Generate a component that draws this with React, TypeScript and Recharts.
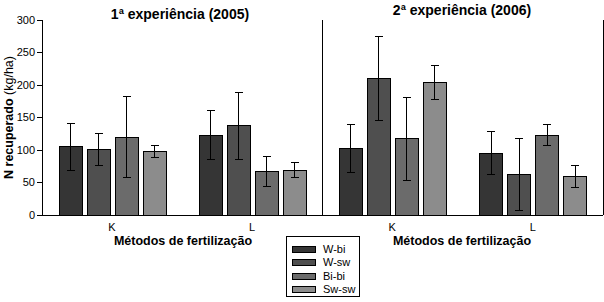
import React from 'react';
import { BarChart, Bar, XAxis, YAxis, ErrorBar } from 'recharts';

const categories = ['K', 'L'];
const series = ['W-bi', 'W-sw', 'Bi-bi', 'Sw-sw'];
const colors = ['#353535', '#4f4f4f', '#6b6b6b', '#8c8c8c'];
const yTicks = [0, 50, 100, 150, 200, 250, 300];

// Experiment 1 (2005): values per series, [K, L]
const exp1WBi = [105, 123];
const exp1WSw = [101, 137];
const exp1BiBi = [120, 67];
const exp1SwSw = [98, 69];
const exp1WBiErr = [36, 38];
const exp1WSwErr = [25, 52];
const exp1BiBiErr = [63, 23];
const exp1SwSwErr = [9, 12];

// Experiment 2 (2006)
const exp2WBi = [103, 95];
const exp2WSw = [210, 62];
const exp2BiBi = [117, 123];
const exp2SwSw = [204, 59];
const exp2WBiErr = [37, 33];
const exp2WSwErr = [65, 55];
const exp2BiBiErr = [64, 16];
const exp2SwSwErr = [26, 17];

const title1 = '1ª experiência (2005)';
const title2 = '2ª experiência (2006)';
const xTitle = 'Métodos de fertilização';

function buildRows(means: number[][], errs: number[][]) {
  return categories.map((c, i) => {
    const row: any = { cat: c };
    series.forEach((s, j) => {
      row[s] = means[j][i];
      row[s + '_err'] = errs[j][i];
    });
    return row;
  });
}

const rows1 = buildRows(
  [exp1WBi, exp1WSw, exp1BiBi, exp1SwSw],
  [exp1WBiErr, exp1WSwErr, exp1BiBiErr, exp1SwSwErr]
);
const rows2 = buildRows(
  [exp2WBi, exp2WSw, exp2BiBi, exp2SwSw],
  [exp2WBiErr, exp2WSwErr, exp2BiBiErr, exp2SwSwErr]
);

const FONT = '"Liberation Sans", Arial, sans-serif';

function YLabel(props: any) {
  const vb = props.viewBox || {};
  const cx = 9;
  const cy = (vb.y ?? 20) + (vb.height ?? 195) / 2;
  return (
    <text
      x={cx}
      y={cy}
      transform={`rotate(-90 ${cx} ${cy})`}
      textAnchor="middle"
      dominantBaseline="central"
      fontFamily={FONT}
      fontSize={12.5}
      fill="#000"
    >
      <tspan fontWeight="bold">N recuperado</tspan>
      <tspan> (kg/ha)</tspan>
    </text>
  );
}

function Panel({ rows, left, width, yWidth, showTicks, rightBorder }: any) {
  return (
    <div style={{ position: 'absolute', left, top: 0 }}>
      <BarChart
        width={width}
        height={302}
        data={rows}
        margin={{ top: 20, right: 0, bottom: 57, left: 0 }}
        barSize={23}
        barGap={5}
        style={{ shapeRendering: 'crispEdges' }}
      >
        <XAxis
          xAxisId="b"
          dataKey="cat"
          tickLine={false}
          axisLine={{ stroke: '#000' }}
          tick={{ fill: '#000', fontSize: 11, fontFamily: FONT }}
          height={30}
        />
        <XAxis
          xAxisId="t"
          dataKey="cat"
          orientation="top"
          height={0}
          tick={false}
          tickLine={false}
          axisLine={{ stroke: '#000' }}
        />
        <YAxis
          yAxisId="l"
          width={yWidth}
          domain={[0, 300]}
          ticks={yTicks}
          interval={0}
          tick={showTicks ? { fill: '#000', fontSize: 11, fontFamily: FONT } : false}
          tickLine={showTicks ? { stroke: '#000' } : false}
          tickSize={5}
          axisLine={{ stroke: '#000' }}
          label={showTicks ? <YLabel /> : undefined}
        />
        {rightBorder && (
          <YAxis
            yAxisId="r"
            orientation="right"
            width={1}
            domain={[0, 300]}
            tick={false}
            tickLine={false}
            axisLine={{ stroke: '#000' }}
          />
        )}
        {series.map((s, j) => (
          <Bar
            key={s}
            dataKey={s}
            xAxisId="b"
            yAxisId="l"
            fill={colors[j]}
            stroke="#000"
            strokeWidth={1}
            isAnimationActive={false}
          >
            <ErrorBar
              dataKey={s + '_err'}
              width={4}
              stroke="#000"
              strokeWidth={1}
              direction="y"
            />
          </Bar>
        ))}
      </BarChart>
    </div>
  );
}

const textStyle: React.CSSProperties = {
  position: 'absolute',
  fontFamily: FONT,
  fontWeight: 'bold',
  color: '#000',
  whiteSpace: 'nowrap',
  transform: 'translate(-50%, -50%)',
  lineHeight: 1,
};

export default function App() {
  return (
    <div style={{ position: 'absolute', left: 0, top: 0, width: 604, height: 302, background: '#fff', overflow: 'hidden' }}>
      <Panel rows={rows1} left={0} width={322} yWidth={42} showTicks={true} rightBorder={false} />
      <Panel rows={rows2} left={300} width={304} yWidth={22} showTicks={false} rightBorder={true} />
      <div style={{ ...textStyle, left: 180, top: 14, fontSize: 14 }}>{title1}</div>
      <div style={{ ...textStyle, left: 462, top: 10, fontSize: 14 }}>{title2}</div>
      <div style={{ ...textStyle, left: 183, top: 241, fontSize: 12.5 }}>{xTitle}</div>
      <div style={{ ...textStyle, left: 462, top: 241, fontSize: 12.5 }}>{xTitle}</div>
      <div
        style={{
          position: 'absolute',
          left: 286,
          top: 236,
          width: 74,
          height: 61,
          border: '1px solid #000',
          boxSizing: 'border-box',
          background: '#fff',
          fontFamily: FONT,
          fontSize: 11,
        }}
      >
        {series.map((s, j) => (
          <div key={s} style={{ position: 'absolute', left: 5, top: 6 + j * 13.5, height: 12, display: 'flex', alignItems: 'center' }}>
            <div style={{ width: 22, height: 5, background: colors[j], border: '1px solid #000', marginRight: 7 }} />
            <span style={{ lineHeight: 1 }}>{s}</span>
          </div>
        ))}
      </div>
    </div>
  );
}
